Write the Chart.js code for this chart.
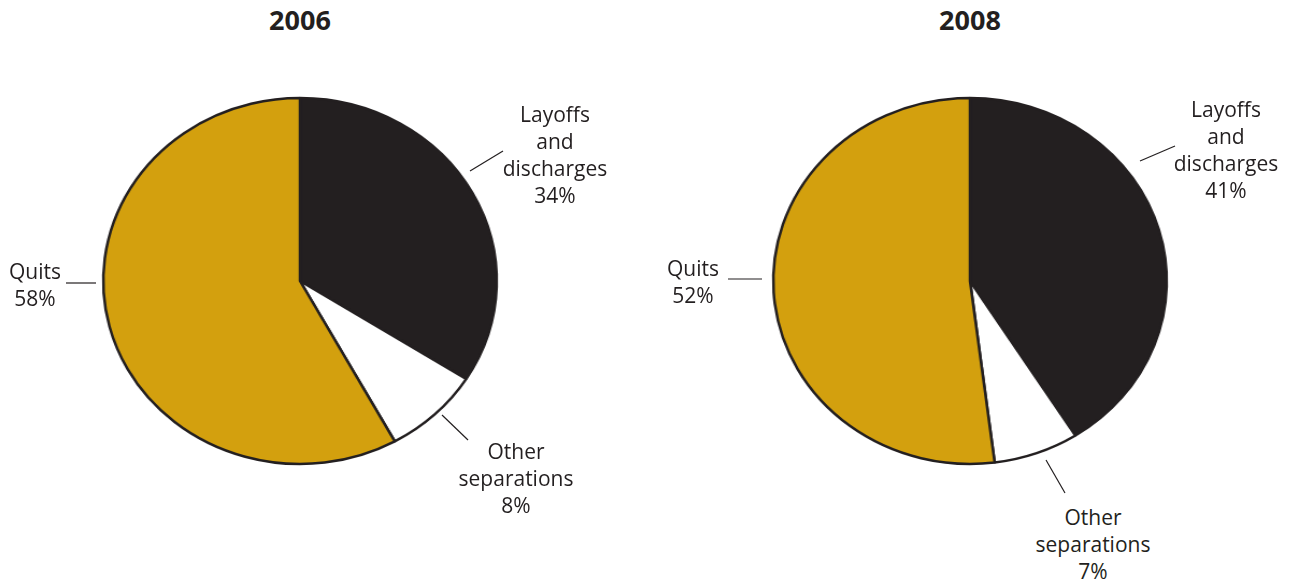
<!DOCTYPE html>
<html>
<head>
<meta charset="utf-8">
<script src="https://cdn.jsdelivr.net/npm/chart.js@4"></script>
<style>
  body { margin: 0; width: 1296px; height: 580px; background: #fff; position: relative; overflow: hidden;
         font-family: "Open Sans", "Noto Sans", sans-serif; color: #231f20; }
  .title { position: absolute; top: 1px; width: 200px; text-align: center; font-weight: bold; font-size: 27px; }
  .pie { position: absolute; width: 400px; height: 400px; transform: scaleX(1.075); transform-origin: center; }
  .lbl { position: absolute; width: 200px; text-align: center; font-size: 21px; line-height: 27px; }
  svg { position: absolute; left: 0; top: 0; }
</style>
</head>
<body>
<svg id="leaders" width="1296" height="580"></svg>
<script>
// data
var years = ['2006', '2008'];
var categories = ['Layoffs and discharges', 'Other separations', 'Quits'];
var labelLines = [['Layoffs', 'and', 'discharges'], ['Other', 'separations'], ['Quits']];
var values2006 = [34, 8, 58];
var values2008 = [41, 7, 52];
var sliceColors = ['#231f20', '#ffffff', '#d3a00e'];

// layout (pie centers, label centres, leader lines)
var layout = [
    { cx: 300, cy: 281,
      labels: [[555, 114], [516, 451], [35, 271]],
      leaders: [[470, 171, 503, 151], [442, 415, 468, 440], [66, 283, 96, 283]] },
    { cx: 970, cy: 281,
      labels: [[1226, 109], [1093, 517], [693, 268]],
      leaders: [[1140, 161, 1175, 146], [1046, 460, 1065, 493], [728, 279, 762, 279]] }
];
var allValues = [values2006, values2008];

var svg = document.getElementById('leaders');

years.forEach(function (year, i) {
    var lay = layout[i];

    var t = document.createElement('div');
    t.className = 'title';
    t.style.left = (lay.cx - 100) + 'px';
    t.textContent = year;
    document.body.appendChild(t);

    var wrap = document.createElement('div');
    wrap.className = 'pie';
    wrap.style.left = (lay.cx - 200) + 'px';
    wrap.style.top = (lay.cy - 200) + 'px';
    var canvas = document.createElement('canvas');
    canvas.width = 400;
    canvas.height = 400;
    wrap.appendChild(canvas);
    document.body.appendChild(wrap);

    new Chart(canvas, {
        type: 'pie',
        data: {
            labels: categories,
            datasets: [{
                data: allValues[i],
                backgroundColor: sliceColors,
                borderColor: '#231f20',
                borderWidth: 2.5
            }]
        },
        options: {
            responsive: false,
            animation: false,
            radius: 183,
            plugins: { legend: { display: false }, tooltip: { enabled: false } }
        }
    });

    categories.forEach(function (c, k) {
        var d = document.createElement('div');
        d.className = 'lbl';
        d.style.left = (lay.labels[k][0] - 100) + 'px';
        d.style.top = (lay.labels[k][1] - 13) + 'px';
        d.innerHTML = labelLines[k].concat([allValues[i][k] + '%']).join('<br>');
        document.body.appendChild(d);

        var l = lay.leaders[k];
        var line = document.createElementNS('http://www.w3.org/2000/svg', 'line');
        line.setAttribute('x1', l[0]); line.setAttribute('y1', l[1]);
        line.setAttribute('x2', l[2]); line.setAttribute('y2', l[3]);
        line.setAttribute('stroke', '#231f20');
        line.setAttribute('stroke-width', '1.2');
        svg.appendChild(line);
    });
});
</script>
</body>
</html>
